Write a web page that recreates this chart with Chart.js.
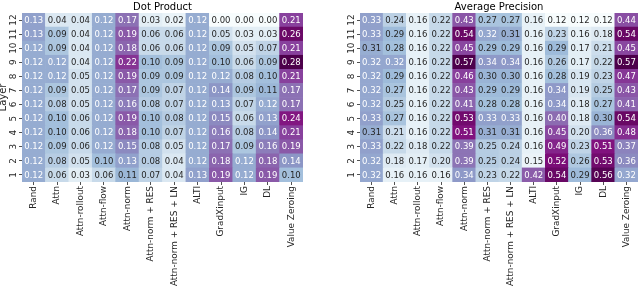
<!DOCTYPE html>
<html>
<head>
<meta charset="utf-8">
<title>Dot Product / Average Precision</title>
<script src="https://cdn.jsdelivr.net/npm/chart.js@4/dist/chart.umd.min.js"></script>
<style>
  html, body { margin: 0; padding: 0; background: #fff; }
  #wrap { position: relative; width: 640px; height: 286px; overflow: hidden; }
  #wrap canvas { position: absolute; top: 0; }
  #dot { left: 0; }
  #ap  { left: 320px; }
</style>
</head>
<body>
<div id="wrap">
  <canvas id="dot" width="320" height="286"></canvas>
  <canvas id="ap" width="320" height="286"></canvas>
</div>
<script>
(function () {
  'use strict';

  // ── Data ──────────────────────────────────────────────────────────────────
  var methods = ['Rand', 'Attn', 'Attn-rollout', 'Attn-flow', 'Attn-norm', 'Attn-norm + RES',
    'Attn-norm + RES + LN', 'ALTI', 'GradXinput', 'IG', 'DL', 'Value Zeroing'];

  // rows are listed top to bottom, as in the figure (layer 12 first)
  var layers = ['12', '11', '10', '9', '8', '7', '6', '5', '4', '3', '2', '1'];

  var dotProduct = [
    [0.13, 0.04, 0.04, 0.12, 0.17, 0.03, 0.02, 0.12, 0.00, 0.00, 0.00, 0.21],
    [0.13, 0.09, 0.04, 0.12, 0.19, 0.06, 0.06, 0.12, 0.05, 0.03, 0.03, 0.26],
    [0.12, 0.09, 0.04, 0.12, 0.18, 0.06, 0.06, 0.12, 0.09, 0.05, 0.07, 0.21],
    [0.12, 0.12, 0.04, 0.12, 0.22, 0.10, 0.09, 0.12, 0.10, 0.06, 0.09, 0.28],
    [0.12, 0.12, 0.05, 0.12, 0.19, 0.09, 0.09, 0.12, 0.12, 0.08, 0.10, 0.21],
    [0.12, 0.09, 0.05, 0.12, 0.17, 0.09, 0.07, 0.12, 0.14, 0.09, 0.11, 0.17],
    [0.12, 0.08, 0.05, 0.12, 0.16, 0.08, 0.07, 0.12, 0.13, 0.07, 0.12, 0.17],
    [0.12, 0.10, 0.06, 0.12, 0.19, 0.10, 0.08, 0.12, 0.15, 0.06, 0.13, 0.24],
    [0.12, 0.10, 0.06, 0.12, 0.18, 0.10, 0.07, 0.12, 0.16, 0.08, 0.14, 0.21],
    [0.12, 0.09, 0.06, 0.12, 0.15, 0.08, 0.05, 0.12, 0.17, 0.09, 0.16, 0.19],
    [0.12, 0.08, 0.05, 0.10, 0.13, 0.08, 0.04, 0.12, 0.18, 0.12, 0.18, 0.14],
    [0.12, 0.06, 0.03, 0.06, 0.11, 0.07, 0.04, 0.13, 0.19, 0.12, 0.19, 0.10]
  ];

  var avgPrecision = [
    [0.33, 0.24, 0.16, 0.22, 0.43, 0.27, 0.27, 0.16, 0.12, 0.12, 0.12, 0.44],
    [0.33, 0.29, 0.16, 0.22, 0.54, 0.32, 0.31, 0.16, 0.23, 0.16, 0.18, 0.54],
    [0.31, 0.28, 0.16, 0.22, 0.45, 0.29, 0.29, 0.16, 0.29, 0.17, 0.21, 0.45],
    [0.32, 0.32, 0.16, 0.22, 0.57, 0.34, 0.34, 0.16, 0.26, 0.17, 0.22, 0.57],
    [0.32, 0.29, 0.16, 0.22, 0.46, 0.30, 0.30, 0.16, 0.28, 0.19, 0.23, 0.47],
    [0.32, 0.27, 0.16, 0.22, 0.43, 0.29, 0.29, 0.16, 0.34, 0.19, 0.25, 0.43],
    [0.32, 0.25, 0.16, 0.22, 0.41, 0.28, 0.28, 0.16, 0.34, 0.18, 0.27, 0.41],
    [0.33, 0.27, 0.16, 0.22, 0.53, 0.33, 0.33, 0.16, 0.40, 0.18, 0.30, 0.54],
    [0.31, 0.21, 0.16, 0.22, 0.51, 0.31, 0.31, 0.16, 0.45, 0.20, 0.36, 0.48],
    [0.33, 0.22, 0.18, 0.22, 0.39, 0.25, 0.24, 0.16, 0.49, 0.23, 0.51, 0.37],
    [0.32, 0.18, 0.17, 0.20, 0.39, 0.25, 0.24, 0.15, 0.52, 0.26, 0.53, 0.36],
    [0.32, 0.16, 0.16, 0.16, 0.34, 0.23, 0.22, 0.42, 0.54, 0.29, 0.56, 0.32]
  ];

  // matplotlib "BuPu" anchors
  var BUPU = ['#f7fcfd', '#e0ecf4', '#bfd3e6', '#9ebcda', '#8c96c6',
              '#8c6bb1', '#88419d', '#810f7c', '#4d004b'];

  var FONT = '"DejaVu Sans", "Liberation Sans", sans-serif';
  var DARK = '#262626';

  // ── Colour helpers ────────────────────────────────────────────────────────
  function _hex(h) {
    return [parseInt(h.slice(1, 3), 16), parseInt(h.slice(3, 5), 16), parseInt(h.slice(5, 7), 16)];
  }

  function _bupu(t) {
    t = Math.max(0, Math.min(1, t));
    var p = t * (BUPU.length - 1);
    var i = Math.min(Math.floor(p), BUPU.length - 2);
    var f = p - i;
    var a = _hex(BUPU[i]), b = _hex(BUPU[i + 1]);
    return a.map(function (c, k) { return c + (b[k] - c) * f; });
  }

  function _css(rgb) {
    return 'rgb(' + rgb.map(function (c) { return Math.round(c); }).join(',') + ')';
  }

  // same rule seaborn uses to pick the annotation colour
  function _luminance(rgb) {
    var lin = rgb.map(function (c) {
      c = c / 255;
      return c <= 0.03928 ? c / 12.92 : Math.pow((c + 0.055) / 1.055, 2.4);
    });
    return 0.2126 * lin[0] + 0.7152 * lin[1] + 0.0722 * lin[2];
  }

  // ── Plugins ───────────────────────────────────────────────────────────────
  var cellLabels = {
    id: 'cellLabels',
    afterDatasetsDraw: function (chart) {
      var ctx = chart.ctx;
      ctx.save();
      ctx.font = '8.5px ' + FONT;
      ctx.textAlign = 'center';
      ctx.textBaseline = 'middle';
      chart.data.datasets.forEach(function (ds, d) {
        chart.getDatasetMeta(d).data.forEach(function (bar, i) {
          ctx.fillStyle = ds.textColors[i];
          ctx.fillText(ds.values[i].toFixed(2), bar.x, (bar.y + bar.base) / 2 + 0.5);
        });
      });
      ctx.restore();
    }
  };

  var heatTitle = {
    id: 'heatTitle',
    afterDraw: function (chart, args, opts) {
      var ctx = chart.ctx, area = chart.chartArea;
      ctx.save();
      ctx.font = '10px ' + FONT;
      ctx.fillStyle = '#000';
      ctx.textAlign = 'center';
      ctx.textBaseline = 'alphabetic';
      ctx.fillText(opts.text, (area.left + area.right) / 2, 10);
      ctx.restore();
    }
  };

  // ── Heatmap builder (stacked bars, one dataset per layer) ────────────────
  function makeHeatmap(canvasId, title, rows, cfg) {
    var flat = [].concat.apply([], rows);
    var vmin = Math.min.apply(null, flat);
    var vmax = Math.max.apply(null, flat);

    var datasets = rows.slice().reverse().map(function (row, k) {
      var colors = row.map(function (v) { return _bupu((v - vmin) / (vmax - vmin)); });
      return {
        label: 'Layer ' + (k + 1),
        data: row.map(function () { return 1; }),
        values: row,
        backgroundColor: colors.map(_css),
        textColors: colors.map(function (c) { return _luminance(c) > 0.408 ? DARK : '#ffffff'; }),
        borderWidth: 0,
        barPercentage: 1,
        categoryPercentage: 1
      };
    });

    return new Chart(document.getElementById(canvasId), {
      type: 'bar',
      data: { labels: methods, datasets: datasets },
      options: {
        responsive: false,
        animation: false,
        events: [],
        layout: { padding: { top: 13, right: cfg.padRight, left: 0, bottom: 0 } },
        plugins: {
          legend: { display: false },
          tooltip: { enabled: false },
          heatTitle: { text: title }
        },
        scales: {
          x: {
            stacked: true,
            grid: { offset: false, drawOnChartArea: false, tickLength: 3, tickColor: DARK, lineWidth: 0.8 },
            border: { display: false },
            ticks: {
              autoSkip: false, minRotation: 90, maxRotation: 90, padding: 1,
              color: DARK, font: { family: FONT, size: 8.9 }
            },
            afterFit: function (s) { s.height = 104; }
          },
          y: {
            type: 'linear',
            stacked: true,
            min: 0,
            max: layers.length,
            afterBuildTicks: function (s) {
              s.ticks = layers.map(function (l, i) { return { value: i + 0.5 }; });
            },
            grid: { drawOnChartArea: false, tickLength: 3, tickColor: DARK, lineWidth: 0.8 },
            border: { display: false },
            ticks: {
              minRotation: 90, maxRotation: 90, crossAlign: 'center', padding: 0,
              color: DARK, font: { family: FONT, size: 8.9 },
              callback: function (v) { return String(Math.round(v + 0.5)); }
            },
            title: {
              display: cfg.showLayer, text: 'Layer', color: DARK, padding: 0,
              font: { family: FONT, size: 10, lineHeight: 0.75 }
            },
            afterFit: function (s) { s.width = cfg.axisWidth; }
          }
        }
      },
      plugins: [cellLabels, heatTitle]
    });
  }

  makeHeatmap('dot', 'Dot Product', dotProduct, { axisWidth: 22, padRight: 17, showLayer: true });
  makeHeatmap('ap', 'Average Precision', avgPrecision, { axisWidth: 40, padRight: 2, showLayer: false });
}());
</script>
</body>
</html>
